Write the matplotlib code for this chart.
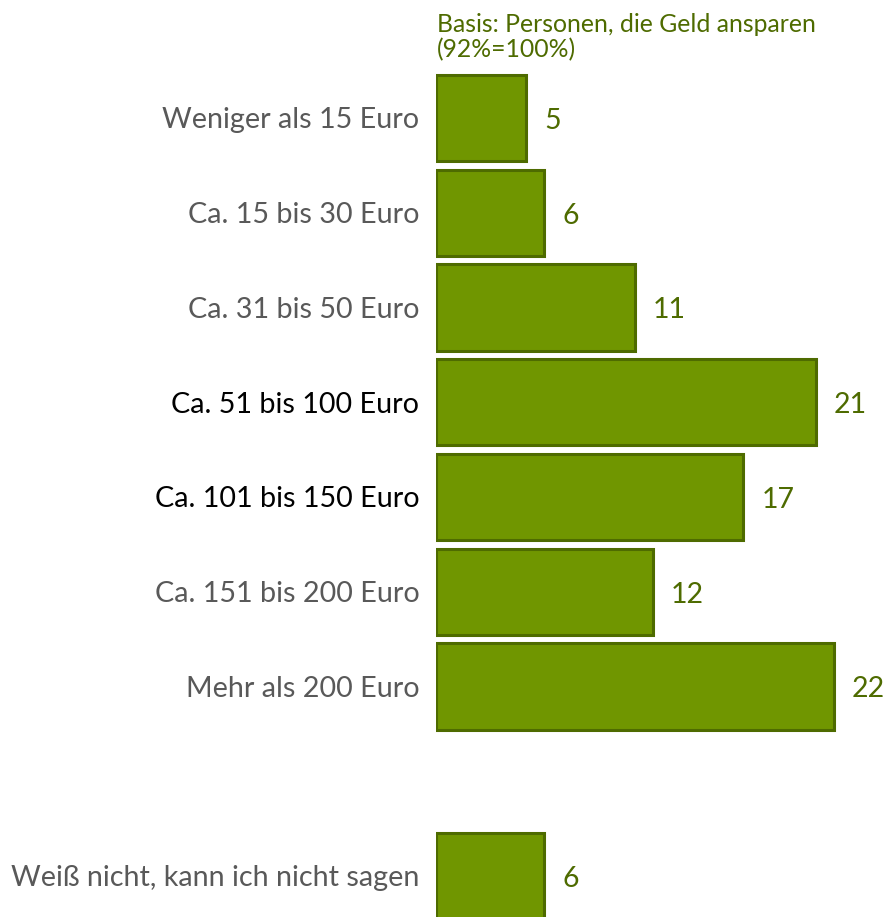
import matplotlib
matplotlib.use("Agg")
import matplotlib.pyplot as plt
import matplotlib.transforms as mtransforms

categories = [
    "Weniger als 15 Euro",
    "Ca. 15 bis 30 Euro",
    "Ca. 31 bis 50 Euro",
    "Ca. 51 bis 100 Euro",
    "Ca. 101 bis 150 Euro",
    "Ca. 151 bis 200 Euro",
    "Mehr als 200 Euro",
    "Weiß nicht, kann ich nicht sagen",
]
values = [5, 6, 11, 21, 17, 12, 22, 6]
positions = [0, 1, 2, 3, 4, 5, 6, 8]
highlighted = {"Ca. 51 bis 100 Euro", "Ca. 101 bis 150 Euro"}
note = "Basis: Personen, die Geld ansparen\n(92%=100%)"

FILL = "#709600"
EDGE = "#4E6B00"
VALUE_COLOR = "#4E6B00"
LABEL_GRAY = "#595959"

plt.rcParams["font.family"] = ["Lato", "DejaVu Sans"]

fig = plt.figure(figsize=(8.88, 9.17), dpi=100)
ax = fig.add_axes([436 / 888, 0, 1 - 436 / 888, 1])
ax.set_xlim(0, 25)
ax.set_ylim(8.433, -1.245)

ax.barh(positions, values, height=0.91, color=FILL, edgecolor=EDGE,
        linewidth=2.2, align="center")

for p, v in zip(positions, values):
    ax.text(v + 1.0, p + 0.03, str(v), va="center", ha="left",
            fontsize=20.5, color=VALUE_COLOR)

ax.set_yticks(positions)
ax.set_yticklabels(categories, fontsize=20.7)
shift = mtransforms.ScaledTranslation(0, -2 / 100, fig.dpi_scale_trans)
for lbl in ax.get_yticklabels():
    lbl.set_color("#000000" if lbl.get_text() in highlighted else LABEL_GRAY)
    lbl.set_transform(lbl.get_transform() + shift)
ax.tick_params(axis="y", length=0, pad=12)
ax.set_xticks([])
for s in ax.spines.values():
    s.set_visible(False)

ax.text(0.03, -1.11, note, ha="left", va="top", fontsize=17.8,
        color=VALUE_COLOR, linespacing=1.12)

fig.savefig("out.png", dpi=100)
